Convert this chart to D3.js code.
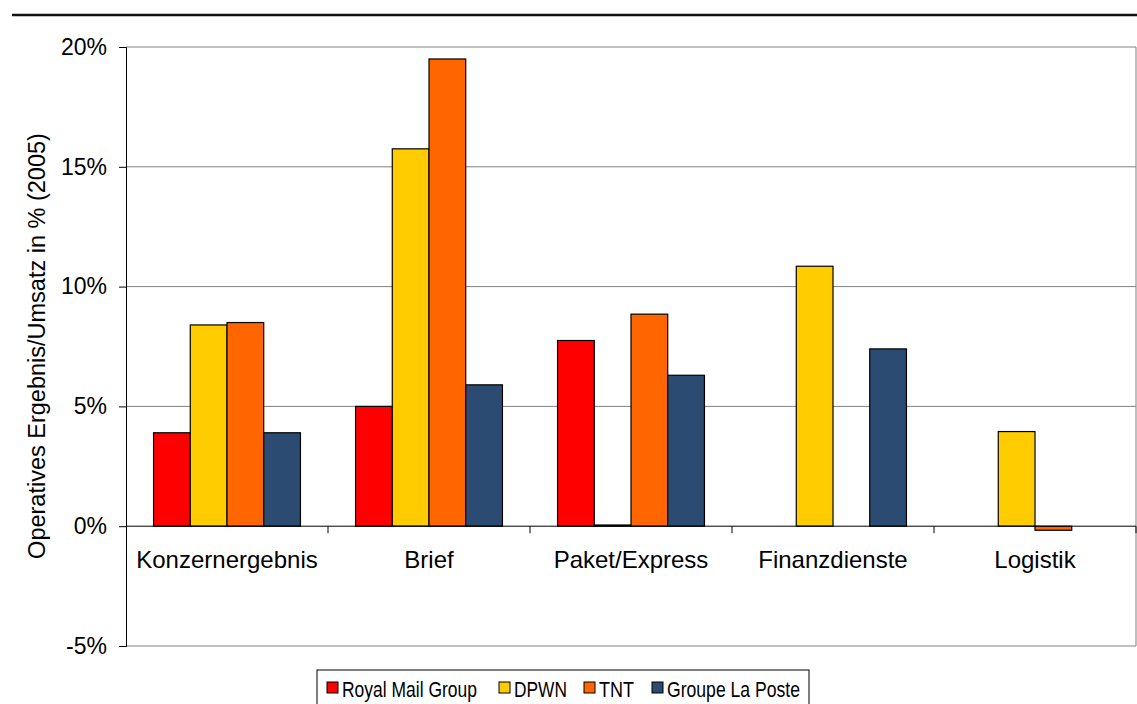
<!DOCTYPE html>
<html><head><meta charset="utf-8">
<script src="https://cdn.jsdelivr.net/npm/d3@7"></script>
<style>body{margin:0;background:#fff}svg{display:block;font-family:"Liberation Sans",Arial,sans-serif}</style>
</head><body>
<svg id="c" width="1137" height="704"></svg>
<script>
const categories = ["Konzernergebnis","Brief","Paket/Express","Finanzdienste","Logistik"];
const seriesNames = ["Royal Mail Group","DPWN","TNT","Groupe La Poste"];
const royalMail = [3.9, 5.0, 7.75, null, null];
const dpwn = [8.4, 15.75, 0.05, 10.85, 3.95];
const tnt = [8.5, 19.5, 8.85, null, -0.17];
const laPoste = [3.9, 5.9, 6.3, 7.4, null];
const yTicks = [-5, 0, 5, 10, 15, 20];
const colors = ["#FF0000","#FFCC00","#FF6600","#2B4B72"];

const series = [royalMail, dpwn, tnt, laPoste];
const svg = d3.select("#c");
const L = 126, R = 1136, T = 47, B = 646;
const x = d3.scaleBand().domain(categories).range([L, R]).paddingInner(0).paddingOuter(0);
const y = d3.scaleLinear().domain([-5, 20]).range([B, T]);
const bw = x.bandwidth() / 5.5;
const gap = (x.bandwidth() - 4 * bw) / 2;

// top rule
svg.append("line").attr("x1", 12).attr("x2", 1137).attr("y1", 15).attr("y2", 15)
  .attr("stroke", "#111").attr("stroke-width", 2.5);

// gridlines
svg.selectAll(".grid").data(yTicks.filter(t => t !== 0)).join("line")
  .attr("x1", L).attr("x2", R).attr("y1", d => y(d)).attr("y2", d => y(d))
  .attr("stroke", "#808080").attr("stroke-width", 1);
svg.append("line").attr("x1", R).attr("x2", R).attr("y1", T).attr("y2", B).attr("stroke", "#808080");

// bars
series.forEach((s, si) => {
  svg.append("g").selectAll("rect").data(categories.map((c, i) => ({c, v: s[i]})).filter(d => d.v !== null)).join("rect")
    .attr("x", d => x(d.c) + gap + si * bw)
    .attr("width", bw)
    .attr("y", d => y(Math.max(0, d.v)))
    .attr("height", d => Math.max(1, Math.abs(y(d.v) - y(0))))
    .attr("fill", colors[si]).attr("stroke", "#000").attr("stroke-width", 1.2);
});

// y axis
const yAxis = d3.axisLeft(y).tickValues(yTicks).tickFormat(d => d + "%").tickSize(7).tickPadding(12);
const ga = svg.append("g").attr("transform", `translate(${L},0)`).call(yAxis);
ga.select(".domain").attr("stroke", "#000");
ga.selectAll("text").attr("font-size", 23).attr("fill", "#000").attr("font-family", "Liberation Sans, Arial, sans-serif");

// zero line
svg.append("line").attr("x1", L).attr("x2", R).attr("y1", y(0)).attr("y2", y(0)).attr("stroke", "#000");
// category ticks
svg.selectAll(".ctick").data(categories).join("line")
  .attr("x1", d => x(d) + x.bandwidth()).attr("x2", d => x(d) + x.bandwidth())
  .attr("y1", y(0)).attr("y2", y(0) + 7).attr("stroke", "#000");
// category labels
svg.selectAll(".clab").data(categories).join("text")
  .attr("x", d => x(d) + x.bandwidth() / 2).attr("y", 568)
  .attr("text-anchor", "middle").attr("font-size", 24).text(d => d);

// y title
svg.append("text").attr("transform", "translate(45,346) rotate(-90)")
  .attr("text-anchor", "middle").attr("font-size", 23.5).text("Operatives Ergebnis/Umsatz in % (2005)");

// legend
const lg = svg.append("g");
lg.append("rect").attr("x", 317).attr("y", 670).attr("width", 492).attr("height", 40)
  .attr("fill", "#fff").attr("stroke", "#000").attr("stroke-width", 1);
const legX = [327, 499, 584, 652];
const legW = [135, 53, 35, 133];
seriesNames.forEach((n, i) => {
  lg.append("rect").attr("x", legX[i]).attr("y", 682).attr("width", 11).attr("height", 11)
    .attr("fill", colors[i]).attr("stroke", "#000");
  lg.append("text").attr("x", legX[i] + 15).attr("y", 697).attr("font-size", 22)
    .attr("textLength", legW[i]).attr("lengthAdjust", "spacingAndGlyphs").text(n);
});
</script>
</body></html>
